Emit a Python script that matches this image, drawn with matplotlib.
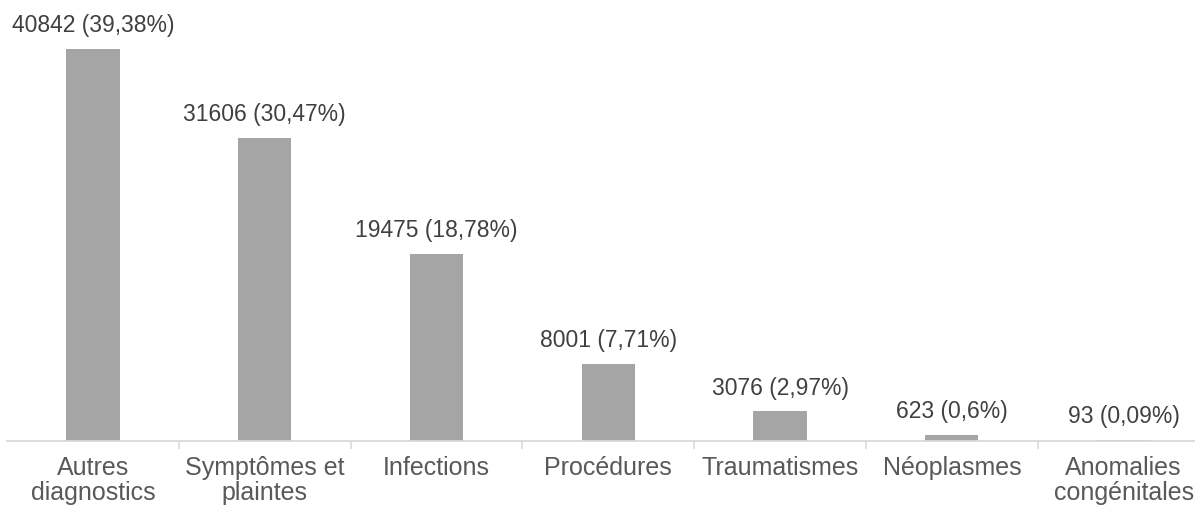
import matplotlib
matplotlib.use("Agg")
import matplotlib.pyplot as plt
import numpy as np

categories = ["Autres\ndiagnostics", "Symptômes et\nplaintes", "Infections",
              "Procédures", "Traumatismes", "Néoplasmes", "Anomalies\ncongénitales"]
counts = [40842, 31606, 19475, 8001, 3076, 623, 93]
percents = ["39,38", "30,47", "18,78", "7,71", "2,97", "0,6", "0,09"]

plt.rcParams['font.family'] = ['Liberation Sans', 'DejaVu Sans']

fig = plt.figure(figsize=(11.95, 5.14), dpi=100)
ax = fig.add_axes([7 / 1195, 73 / 514, 1, 441 / 514])

x = np.arange(len(categories))
bars = ax.bar(x, counts, width=0.31, color="#a5a5a5")

for b, c, p in zip(bars, counts, percents):
    ax.annotate(f"{c} ({p}%)", (b.get_x() + b.get_width() / 2, b.get_height()),
                xytext=(0, 8.5), textcoords="offset points",
                ha="center", va="bottom", fontsize=16.5, color="#404040")

ax.set_xlim(-0.5, 6.456)
ax.set_ylim(0, 40842 * 441 / 392)

for s in ["top", "right", "left"]:
    ax.spines[s].set_visible(False)
ax.spines["bottom"].set_color("#d9d9d9")
ax.spines["bottom"].set_linewidth(1.3)
ax.set_yticks([])

ax.set_xticks(x)
ax.set_xticklabels(categories, fontsize=18, color="#595959", linespacing=1.05)
ax.tick_params(axis="x", which="major", length=0, pad=11)
ax.set_xticks(x[:-1] + 0.5, minor=True)
ax.tick_params(axis="x", which="minor", length=6, width=1.2, color="#d9d9d9")

fig.savefig("out.png", dpi=100)
